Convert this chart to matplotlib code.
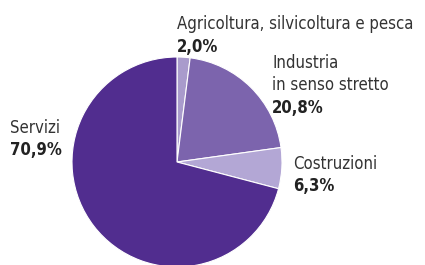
import matplotlib
matplotlib.use("Agg")
import matplotlib.pyplot as plt
from matplotlib import font_manager as fm

categories = ["Agricoltura, silvicoltura e pesca", "Industria\nin senso stretto", "Costruzioni", "Servizi"]
values = [2.0, 20.8, 6.3, 70.9]
value_labels = ["2,0%", "20,8%", "6,3%", "70,9%"]
colors = ["#a99bcc", "#7c64ad", "#b3a7d5", "#512d8f"]

names = sorted({f.name for f in fm.fontManager.ttflist})
print(names)
print([ (f.name, f.stretch) for f in fm.fontManager.ttflist if "Condensed" in f.fname or "Narrow" in f.fname])

W, H = 425, 265
fig = plt.figure(figsize=(W / 100, H / 100), dpi=100)
cx, cy, r = 177, 162, 105
ax = fig.add_axes([(cx - r) / W, 1 - (cy + r) / H, 2 * r / W, 2 * r / H])
ax.pie(values, colors=colors, startangle=90, counterclock=False,
       wedgeprops=dict(edgecolor="white", linewidth=0.8))
ax.set_xlim(-1, 1)
ax.set_ylim(-1, 1)
ax.set_aspect("auto")

font = dict(family=["DejaVu Sans"], fontstretch="condensed", fontsize=12, color="#333333")
pos = [(177, 29), (272, 68), (293, 169), (10, 133)]
lh = 22.5
for (x, y), cat, vl in zip(pos, categories, value_labels):
    lines = cat.split("\n")
    for i, ln in enumerate(lines):
        fig.text(x / W, 1 - (y + lh * i) / H, ln, ha="left", va="baseline", **font)
    fig.text(x / W, 1 - (y + lh * len(lines)) / H, vl, ha="left", va="baseline",
             fontweight="bold", **dict(font, color="#222222"))

fig.savefig("out.png", dpi=100)
